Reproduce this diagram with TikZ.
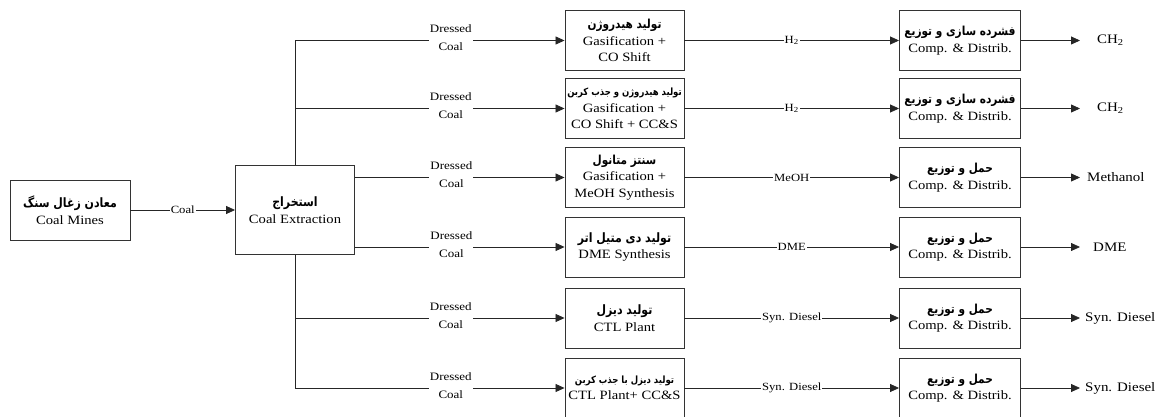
\documentclass[tikz,border=0pt]{standalone}
\usepackage{fontspec}
\setmainfont{Liberation Serif}[FakeStretch=1.15]
\newfontfamily\pfont[Script=Arabic,FakeStretch=0.85]{DejaVu Sans}
\TeXXeTstate=1
\usetikzlibrary{arrows.meta}
\newcommand\fatxt[2][12.4]{{\pfont\bfseries\fontsize{#1}{16}\selectfont\beginR #2\endR}}
\tikzset{
  box/.style={draw=black!80, line width=0.9pt, fill=white, minimum width=119pt, minimum height=60pt,
    align=center, inner sep=1pt, font=\fontsize{12.7}{16.5}\selectfont},
  ln/.style={line width=0.8pt, draw=black!85},
  arr/.style={ln, -{Triangle[length=9pt,width=8pt]}},
  lbl/.style={fill=white, inner sep=1pt, font=\fontsize{11}{13}\selectfont},
  dc/.style={fill=white, inner xsep=1pt, inner ysep=0pt, align=center, yshift=2.5pt,
    font=\fontsize{11.3}{18}\selectfont},
  outl/.style={anchor=west, inner sep=0pt, font=\fontsize{13}{15}\selectfont}
}
\begin{document}
\begin{tikzpicture}[x=1pt, y=-1pt]
\useasboundingbox (0,0) rectangle (1159,417);
% rows
\def\ra{40.5}\def\rb{108.5}\def\rc{177.5}\def\rd{247}\def\re{318}\def\rf{388}
\coordinate (t1) at (295,\ra);
\coordinate (t2) at (295,\rb);
\coordinate (t5) at (295,\re);
\coordinate (t6) at (295,\rf);
% left boxes
\node[box, minimum width=120pt] (cm) at (70,210) {\fatxt[12.9]{معادن زغال سنگ}\\Coal Mines};
\node[box, minimum height=89pt] (ce) at (295,210) {\fatxt[12.9]{استخراج}\\Coal Extraction};
\draw[ln] (ce.north) -- (t1);
\draw[ln] (ce.south) -- (t6);
\draw[arr] (cm) -- node[lbl]{Coal} (ce);
% middle boxes
\node[box] (m1) at (624.5,\ra) {\fatxt{تولید هیدروژن}\\Gasification +\\CO Shift};
\node[box] (m2) at (624.5,\rb) {\fatxt[10]{تولید هیدروژن و جذب کربن}\\Gasification +\\CO Shift + CC\&S};
\node[box] (m3) at (624.5,\rc) {\fatxt{سنتز متانول}\\Gasification +\\MeOH Synthesis};
\node[box] (m4) at (624.5,\rd) {\fatxt[12.9]{تولید دی متیل اتر}\\DME Synthesis};
\node[box] (m5) at (624.5,\re) {\fatxt[12.9]{تولید دیزل}\\CTL Plant};
\node[box] (m6) at (624.5,\rf) {\fatxt[10]{تولید دیزل با جذب کربن}\\CTL Plant+ CC\&S};
% right boxes
\node[box, minimum width=121pt] (r1) at (960,\ra) {\fatxt{فشرده سازی و توزیع}\\Comp. \& Distrib.};
\node[box, minimum width=121pt] (r2) at (960,\rb) {\fatxt{فشرده سازی و توزیع}\\Comp. \& Distrib.};
\node[box, minimum width=121pt] (r3) at (960,\rc) {\fatxt{حمل و توزیع}\\Comp. \& Distrib.};
\node[box, minimum width=121pt] (r4) at (960,\rd) {\fatxt{حمل و توزیع}\\Comp. \& Distrib.};
\node[box, minimum width=121pt] (r5) at (960,\re) {\fatxt{حمل و توزیع}\\Comp. \& Distrib.};
\node[box, minimum width=121pt] (r6) at (960,\rf) {\fatxt{حمل و توزیع}\\Comp. \& Distrib.};
% feed lines
\draw[arr] (t1) -- node[dc, pos=0.578]{Dressed\\Coal} (m1);
\draw[arr] (t2) -- node[dc, pos=0.578]{Dressed\\Coal} (m2);
\draw[arr] (ce.east |- m3) -- node[dc, pos=0.46]{Dressed\\Coal} (m3);
\draw[arr] (ce.east |- m4) -- node[dc, pos=0.46]{Dressed\\Coal} (m4);
\draw[arr] (t5) -- node[dc, pos=0.578]{Dressed\\Coal} (m5);
\draw[arr] (t6) -- node[dc, pos=0.578]{Dressed\\Coal} (m6);
% product lines
\draw[arr] (m1) -- node[lbl]{H\textsubscript{2}} (r1);
\draw[arr] (m2) -- node[lbl]{H\textsubscript{2}} (r2);
\draw[arr] (m3) -- node[lbl]{MeOH} (r3);
\draw[arr] (m4) -- node[lbl]{DME} (r4);
\draw[arr] (m5) -- node[lbl]{Syn. Diesel} (r5);
\draw[arr] (m6) -- node[lbl]{Syn. Diesel} (r6);
% outputs
\coordinate (o1) at (1080,\ra);
\coordinate (o2) at (1080,\rb);
\coordinate (o3) at (1080,\rc);
\coordinate (o4) at (1080,\rd);
\coordinate (o5) at (1080,\re);
\coordinate (o6) at (1080,\rf);
\foreach \i in {1,...,6} {\draw[arr] (r\i) -- (o\i);}
\node[outl] (p1) at (1097,\ra) {CH\textsubscript{2}};
\node[outl] (p2) at (1097,\rb) {CH\textsubscript{2}};
\node[outl] (p3) at (1087,\rc) {Methanol};
\node[outl] (p4) at (1093,\rd) {DME};
\node[outl] (p5) at (1085,\re) {Syn. Diesel};
\node[outl] (p6) at (1085,\rf) {Syn. Diesel};
\end{tikzpicture}
\end{document}
